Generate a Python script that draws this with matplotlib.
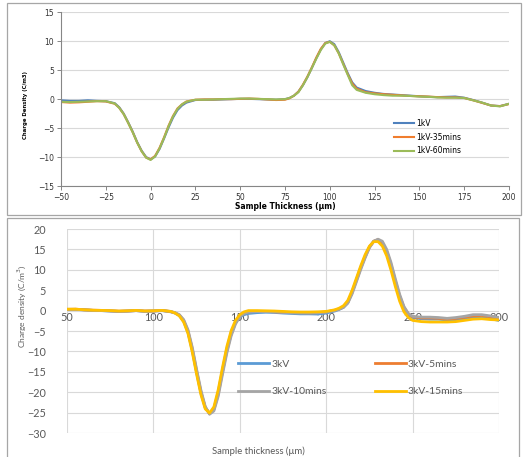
import matplotlib
matplotlib.use("Agg")
import matplotlib.pyplot as plt
from matplotlib.patches import Rectangle

# --- top panel data (1 kV) ---
x_top = [-50, -45, -40, -35, -30, -25, -20,
         -17.5, -15, -12.5, -10, -7.5, -5, -2.5, 0, 2.5, 5, 7.5, 10, 12.5, 15, 17.5, 20,
         25, 30, 35, 40, 45, 50, 55, 60, 65, 70, 75,
         77.5, 80, 82.5, 85, 87.5, 90, 92.5, 95, 97.5, 100, 102.5, 105, 107.5, 110, 112.5, 115,
         120, 125, 130, 135, 140, 145, 150, 155, 160, 165, 170, 175, 180, 185, 190, 195, 200]

kv1 = [-0.2, -0.3, -0.3, -0.2, -0.3, -0.35, -0.7,
       -1.4, -2.5, -4.0, -5.6, -7.4, -8.9, -10.0, -10.4, -9.9, -8.6, -6.8, -4.9, -3.2, -1.9, -1.1, -0.6,
       -0.15, -0.1, -0.1, -0.05, 0.0, 0.05, 0.05, 0.0, -0.05, -0.1, 0.0,
       0.2, 0.6, 1.3, 2.4, 3.8, 5.4, 7.1, 8.6, 9.7, 10.0, 9.5, 8.1, 6.3, 4.5, 2.9, 2.0,
       1.4, 1.1, 0.9, 0.8, 0.7, 0.6, 0.5, 0.4, 0.35, 0.4, 0.45, 0.25, -0.15, -0.6, -1.1, -1.2, -0.8]

kv1_35 = [-0.5, -0.6, -0.55, -0.45, -0.35, -0.4, -0.8,
          -1.5, -2.6, -4.1, -5.7, -7.5, -9.0, -10.1, -10.4, -9.8, -8.4, -6.6, -4.6, -2.9, -1.6, -0.9, -0.4,
          -0.1, -0.05, -0.05, 0.0, 0.0, 0.05, 0.1, 0.05, -0.05, -0.15, -0.1,
          0.15, 0.6, 1.3, 2.5, 3.9, 5.5, 7.2, 8.7, 9.7, 9.9, 9.3, 7.9, 6.1, 4.3, 2.7, 1.8,
          1.2, 1.0, 0.85, 0.75, 0.65, 0.55, 0.5, 0.45, 0.35, 0.3, 0.3, 0.2, -0.2, -0.65, -1.1, -1.2, -0.85]

kv1_60 = [-0.45, -0.5, -0.45, -0.4, -0.35, -0.35, -0.75,
          -1.5, -2.6, -4.1, -5.7, -7.5, -9.0, -10.1, -10.5, -9.9, -8.5, -6.7, -4.7, -3.0, -1.7, -0.9, -0.45,
          -0.1, -0.1, -0.05, 0.0, 0.05, 0.1, 0.1, 0.05, 0.0, -0.05, 0.0,
          0.2, 0.6, 1.2, 2.4, 3.8, 5.4, 7.0, 8.5, 9.6, 9.9, 9.3, 7.9, 6.0, 4.2, 2.4, 1.6,
          1.1, 0.85, 0.7, 0.6, 0.6, 0.55, 0.45, 0.4, 0.3, 0.25, 0.25, 0.2, -0.2, -0.6, -1.1, -1.25, -0.8]

top_labels = ["1kV", "1kV-35mins", "1kV-60mins"]
top_colors = ["#4F81BD", "#F07D2E", "#9BBB59"]

# --- bottom panel data (3 kV) ---
x_bot = [50, 55, 60, 65, 70, 75, 80, 85, 90, 95, 100, 105, 110,
         112.5, 115, 117.5, 120, 122.5, 125, 127.5, 130, 132.5, 135, 137.5, 140, 142.5, 145, 147.5, 150, 152.5, 155,
         160, 165, 170, 175, 180, 185, 190, 195, 200, 205,
         207.5, 210, 212.5, 215, 217.5, 220, 222.5, 225, 227.5, 230, 232.5, 235, 237.5, 240, 242.5, 245, 247.5, 250,
         255, 260, 265, 270, 275, 280, 285, 290, 295, 300]

kv3 = [0.3, 0.3, 0.2, 0.05, 0.0, -0.1, -0.2, -0.1, 0.0, -0.2, -0.1, 0.0, -0.3,
       -0.6, -1.2, -2.6, -5.3, -9.8, -15.2, -20.2, -23.8, -25.2, -24.0, -20.0, -14.5, -9.4, -5.4, -2.9, -1.6, -1.0, -0.7,
       -0.5, -0.4, -0.45, -0.6, -0.7, -0.8, -0.8, -0.85, -0.6, -0.1,
       0.3, 0.8, 2.0, 4.6, 7.6, 10.6, 13.3, 15.6, 17.0, 17.2, 16.3, 14.0, 10.6, 6.6, 3.0, 0.4, -1.0, -1.7,
       -2.0, -2.1, -2.1, -2.3, -2.2, -2.0, -1.8, -1.8, -2.0, -2.4]

kv3_5 = [0.3, 0.35, 0.2, 0.1, 0.05, -0.05, -0.15, -0.1, 0.0, -0.1, -0.1, 0.05, -0.25,
         -0.55, -1.1, -2.4, -5.0, -9.4, -14.8, -19.9, -23.7, -25.3, -24.3, -20.5, -15.0, -9.9, -5.8, -3.0, -1.4, -0.6, -0.3,
         -0.2, -0.2, -0.3, -0.4, -0.5, -0.5, -0.55, -0.5, -0.3, 0.1,
         0.4, 0.9, 2.0, 4.4, 7.4, 10.4, 13.1, 15.5, 17.0, 17.4, 16.7, 14.6, 11.3, 7.3, 3.6, 0.8, -0.8, -1.5,
         -1.8, -1.8, -1.9, -2.1, -1.9, -1.6, -1.3, -1.2, -1.5, -1.8]

kv3_10 = [0.3, 0.3, 0.15, 0.05, 0.0, -0.1, -0.2, -0.15, 0.0, -0.15, -0.1, 0.0, -0.2,
          -0.5, -1.0, -2.2, -4.7, -9.0, -14.4, -19.5, -23.5, -25.4, -24.6, -21.0, -15.6, -10.4, -6.2, -3.3, -1.5, -0.7, -0.35,
          -0.25, -0.25, -0.3, -0.45, -0.55, -0.6, -0.6, -0.55, -0.35, 0.05,
          0.35, 0.8, 1.8, 4.1, 7.1, 10.1, 12.9, 15.4, 17.0, 17.5, 17.0, 15.0, 11.8, 7.8, 4.0, 1.0, -0.7, -1.4,
          -1.6, -1.6, -1.7, -1.9, -1.7, -1.4, -1.0, -1.0, -1.3, -1.7]

kv3_15 = [0.35, 0.35, 0.2, 0.1, 0.05, 0.0, -0.1, -0.05, 0.05, -0.1, -0.05, 0.05, -0.2,
          -0.6, -1.3, -2.8, -5.6, -10.2, -15.6, -20.6, -24.1, -25.1, -23.6, -19.4, -13.9, -8.8, -4.9, -2.4, -1.0, -0.3, 0.0,
          0.0, -0.05, -0.1, -0.2, -0.3, -0.35, -0.35, -0.3, -0.2, 0.2,
          0.6, 1.2, 2.5, 5.0, 8.0, 11.0, 13.7, 15.8, 16.9, 16.9, 15.8, 13.4, 9.9, 5.9, 2.3, -0.3, -1.7, -2.4,
          -2.7, -2.8, -2.8, -2.8, -2.7, -2.4, -2.1, -2.0, -2.2, -2.3]

bot_labels = ["3kV", "3kV-5mins", "3kV-10mins", "3kV-15mins"]
bot_colors = ["#5B9BD5", "#ED7D31", "#A5A5A5", "#FFC000"]

W, H = 523, 457
fig = plt.figure(figsize=(W / 100, H / 100), dpi=100)


def px_box(l, t, r, b):
    """pixel box (left, top, right, bottom) -> figure fraction rect"""
    return [l / W, 1 - b / H, (r - l) / W, (b - t) / H]


# panel frames
for (l, t, r, b) in [(7, 3, 521, 215), (7, 218, 519, 470)]:
    x0, y0, w, h = px_box(l, t, r, b)
    fig.patches.append(Rectangle((x0, y0), w, h, transform=fig.transFigure,
                                 fill=False, ec="#A6A6A6", lw=0.9))

# ---------- top chart ----------
ax1 = fig.add_axes(px_box(61, 12.3, 509, 186))
for ys, lab, c in zip([kv1, kv1_35, kv1_60], top_labels, top_colors):
    ax1.plot(x_top, ys, color=c, lw=1.5, label=lab, solid_joinstyle="round")
ax1.set_xlim(-50, 200)
ax1.set_ylim(-15, 15)
ax1.set_xticks(range(-50, 201, 25))
ax1.set_yticks(range(-15, 16, 5))
ax1.grid(axis="y", color="#D9D9D9", lw=0.8)
ax1.set_axisbelow(True)
for s in ["top", "right"]:
    ax1.spines[s].set_visible(False)
for s in ["left", "bottom"]:
    ax1.spines[s].set_color("#868686")
    ax1.spines[s].set_linewidth(0.8)
ax1.tick_params(length=3, width=0.7, color="#868686", labelsize=5.5,
                labelcolor="#333333", pad=2)
ax1.set_xlabel("Sample Thickness (µm)", fontsize=5.5, fontweight="bold")
ax1.xaxis.set_label_coords(0.5, -0.092)
ax1.set_ylabel("Charge Density (C/m3)", fontsize=4.2, fontweight="bold",
               family="DejaVu Sans", fontstretch="condensed")
ax1.yaxis.set_label_coords(-0.074, 0.466)
ax1.legend(loc="upper left", bbox_to_anchor=(0.744, 0.385), frameon=False,
           fontsize=5.5, handlelength=2.6, handletextpad=0.3,
           labelspacing=0.6, borderpad=0, borderaxespad=0)

# ---------- bottom chart ----------
ax2 = fig.add_axes(px_box(67, 229, 499, 433))
lines = []
for ys, lab, c in zip([kv3, kv3_5, kv3_10, kv3_15], bot_labels, bot_colors):
    ln, = ax2.plot(x_bot, ys, color=c, lw=2.0, label=lab, solid_joinstyle="round")
    lines.append(ln)
ax2.set_xlim(50, 300)
ax2.set_ylim(-30, 20)
ax2.set_xticks(range(50, 301, 50))
ax2.set_yticks(range(-30, 21, 5))
ax2.grid(True, color="#D9D9D9", lw=0.8)
ax2.set_axisbelow(True)
for s in ["top", "right", "left"]:
    ax2.spines[s].set_visible(False)
ax2.spines["bottom"].set_position(("data", 0))
ax2.spines["bottom"].set_visible(False)
ax2.tick_params(axis="y", length=0, labelsize=7.8, labelcolor="#595959", pad=15)
ax2.tick_params(axis="x", length=0, labelsize=7.8, labelcolor="#595959", pad=1)
for t in ax2.get_xticklabels() + ax2.get_yticklabels():
    t.set_family("Lato")
ax2.set_xlabel("Sample thickness (µm)", fontsize=6.8, color="#595959", family="Lato")
ax2.xaxis.set_label_coords(0.442, -0.066)
ax2.set_ylabel("Charge density (C/m$^3$)", fontsize=6, color="#595959", family="Lato")
ax2.yaxis.set_label_coords(-0.09, 0.62)
# row-wise order like the original legend
order = [0, 2, 1, 3]
leg = ax2.legend([lines[i] for i in order], [bot_labels[i] for i in order],
                 loc="upper left", bbox_to_anchor=(0.396, 0.36), frameon=False,
                 ncol=2, fontsize=7.5, handlelength=3.0, handletextpad=0.2,
                 labelspacing=1.75, columnspacing=4.6, borderpad=0, borderaxespad=0)
for t in leg.get_texts():
    t.set_color("#595959")
    t.set_family("Lato")

fig.savefig("out.png", dpi=100)
